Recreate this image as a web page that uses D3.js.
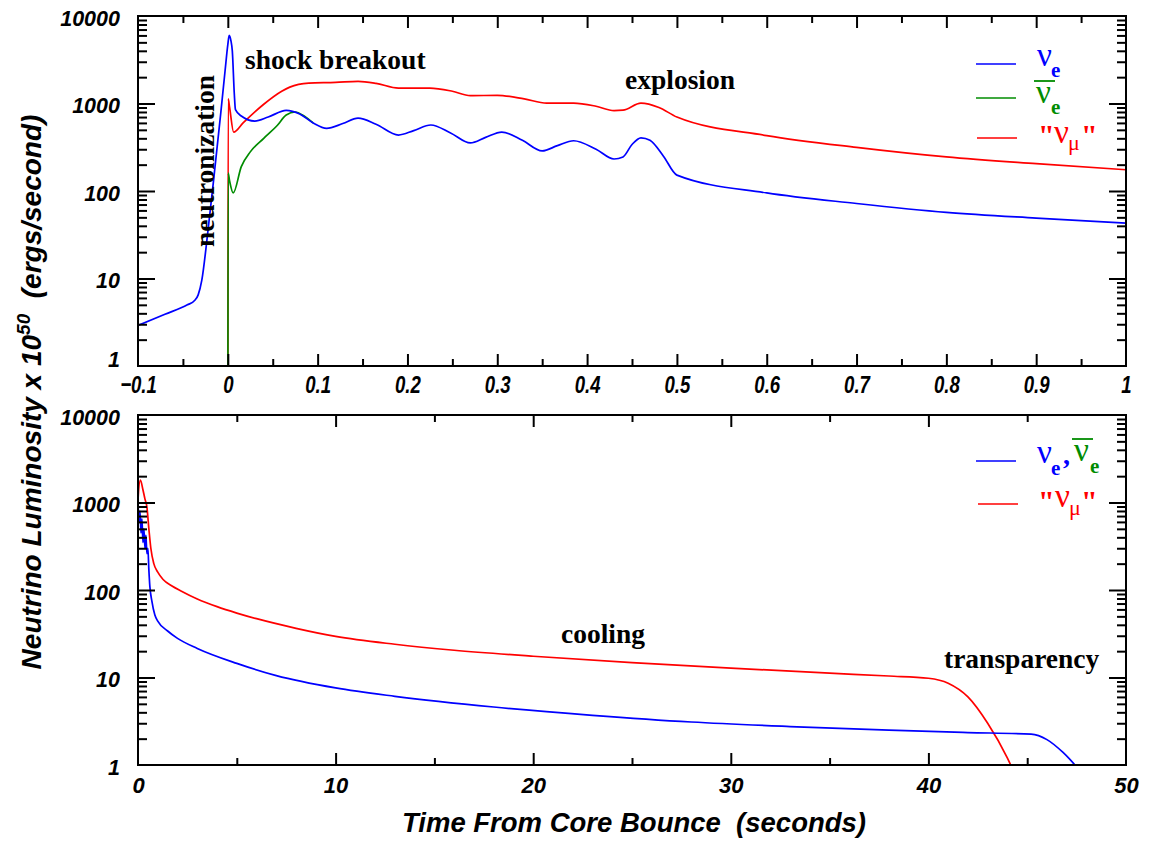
<!DOCTYPE html>
<html>
<head>
<meta charset="utf-8">
<script src="https://cdn.jsdelivr.net/npm/d3@7"></script>
<style>
body { margin: 0; background: #fff; }
svg { display: block; }
.lab { font-family: "Liberation Sans", Arial, sans-serif; font-weight: bold; font-style: italic; fill: #000; }
.note { font-family: "Liberation Serif", "Times New Roman", serif; font-weight: bold; font-size: 27.5px; fill: #000; }
.greek { font-family: "Liberation Serif", "Times New Roman", serif; }
.sub { font-family: "Liberation Serif", serif; font-weight: bold; }
</style>
</head>
<body>
<svg id="chart"></svg>
<script>
// top panel, first second after bounce
var topNueT = [-0.1, -0.07, -0.045, -0.037, -0.033, -0.029, -0.022, -0.015, -0.008, -0.003, 0.0, 0.0015, 0.0035, 0.005, 0.0072, 0.0085, 0.015, 0.03, 0.045, 0.065, 0.08, 0.095, 0.11, 0.128, 0.145, 0.165, 0.19, 0.207, 0.226, 0.248, 0.27, 0.287, 0.305, 0.328, 0.35, 0.367, 0.385, 0.41, 0.43, 0.44, 0.45, 0.46, 0.47, 0.485, 0.5, 0.6, 0.7, 0.8, 0.9, 1.0];
var topNueL = [2.9, 3.9, 5.0, 5.6, 6.5, 9.5, 36, 160, 750, 2400, 4700, 6000, 5200, 4000, 1300, 850, 720, 630, 700, 835, 760, 600, 520, 590, 680, 580, 436, 490, 568, 460, 354, 410, 472, 380, 287, 330, 375, 300, 232, 245, 340, 405, 380, 250, 152, 95, 72, 57, 49, 43];

var topNuebarT = [0, 0.0004, 0.002, 0.006, 0.015, 0.025, 0.04, 0.055, 0.065, 0.075, 0.085, 0.095];
var topNuebarL = [0.1, 160, 130, 95, 190, 280, 400, 560, 740, 800, 720, 600];

var topNumuT = [0, 0.0004, 0.002, 0.0065, 0.017, 0.04, 0.06, 0.069, 0.09, 0.12, 0.145, 0.165, 0.19, 0.225, 0.25, 0.27, 0.3, 0.33, 0.355, 0.385, 0.41, 0.43, 0.44, 0.46, 0.48, 0.5, 0.6, 0.7, 0.8, 0.9, 1.0];
var topNumuL = [0.1, 1130, 900, 470, 600, 980, 1380, 1540, 1710, 1740, 1790, 1700, 1500, 1500, 1380, 1230, 1240, 1130, 1010, 1010, 930, 830, 840, 1010, 900, 700, 430, 315, 245, 205, 175];

// bottom panel, 50 seconds
var botNueT = [0, 0.0002, 0.01, 0.06, 0.1, 0.15, 0.2, 0.25, 0.3, 0.35, 0.4, 0.45, 0.5, 0.55, 0.6, 0.7, 0.85, 1.0, 1.5, 2, 3, 5, 7, 10, 13, 18, 23, 28, 33, 38, 42, 45.2, 46, 46.8, 47.6];
var botNueL = [0.5, 6000, 900, 600, 800, 450, 650, 350, 500, 300, 420, 260, 300, 170, 110, 75, 52, 44, 34, 28, 21.5, 14.5, 10.5, 7.6, 6.1, 4.6, 3.7, 3.1, 2.75, 2.5, 2.35, 2.25, 1.95, 1.4, 0.9];

var botNumuT = [0, 0.003, 0.12, 0.25, 0.35, 0.45, 0.55, 0.65, 0.8, 1.0, 1.27, 1.7, 2.2, 3, 4, 5, 6, 8, 10, 13, 16, 20, 25, 30, 35, 38, 40, 41, 42, 43, 44, 44.6];
var botNumuL = [0.1, 1100, 1800, 1400, 1100, 890, 500, 300, 200, 160, 132, 112, 97, 79, 64.5, 54.5, 47, 36.5, 29.5, 24, 20.5, 17.5, 14.8, 12.8, 11.2, 10.4, 9.8, 8.6, 6.0, 3.0, 1.2, 0.6];

var yTicks = [1, 10, 100, 1000, 10000];
var topXTicks = [-0.1, 0, 0.1, 0.2, 0.3, 0.4, 0.5, 0.6, 0.7, 0.8, 0.9, 1];
var botXTicks = [0, 10, 20, 30, 40, 50];

var width = 1149, height = 842;
var left = 138, right = 1126;
var blue = "#0000ff", green = "#008c00", red = "#ff0000";

var svg = d3.select("#chart").attr("width", width).attr("height", height);

var minorY = [];
[1, 10, 100, 1000].forEach(function(d) {
  for (var k = 2; k <= 9; k++) minorY.push(d * k);
});

function zip(t, l) {
  return t.map(function(d, i) { return [d, l[i]]; });
}

function panel(id, top, bottom, xDomain, xMajor, xMinor, series, xFmt, squeeze) {
  var x = d3.scaleLinear().domain(xDomain).range([left, right]);
  var y = d3.scaleLog().domain([1, 10000]).range([bottom, top]);
  var h = bottom - top;

  svg.append("clipPath").attr("id", id)
    .append("rect").attr("x", left).attr("y", top).attr("width", right - left).attr("height", h);

  var line = d3.line()
    .x(function(d) { return x(d[0]); })
    .y(function(d) { return y(d[1]); })
    .curve(d3.curveMonotoneX);

  var g = svg.append("g");
  series.forEach(function(s) {
    g.append("path")
      .datum(zip(s.t, s.l))
      .attr("clip-path", "url(#" + id + ")")
      .attr("fill", "none")
      .attr("stroke", s.color)
      .attr("stroke-width", 1.7)
      .attr("d", line);
  });

  // inward ticks on all four sides
  function ticks(axis, tx, ty) {
    var a = svg.append("g").attr("transform", "translate(" + tx + "," + ty + ")").call(axis);
    a.select(".domain").remove();
    a.selectAll("line").attr("stroke", "#000").attr("stroke-width", 2);
  }
  var xMaj = xMajor.filter(function(d) { return d > xDomain[0] && d < xDomain[1]; });
  ticks(d3.axisBottom(x).tickValues(xMaj).tickSize(-12).tickFormat(""), 0, bottom);
  ticks(d3.axisTop(x).tickValues(xMaj).tickSize(-12).tickFormat(""), 0, top);
  ticks(d3.axisBottom(x).tickValues(xMinor).tickSize(-7).tickFormat(""), 0, bottom);
  ticks(d3.axisTop(x).tickValues(xMinor).tickSize(-7).tickFormat(""), 0, top);
  var yMaj = yTicks.filter(function(d) { return d > 1 && d < 10000; });
  ticks(d3.axisLeft(y).tickValues(yMaj).tickSize(-17).tickFormat(""), left, 0);
  ticks(d3.axisRight(y).tickValues(yMaj).tickSize(-17).tickFormat(""), right, 0);
  ticks(d3.axisLeft(y).tickValues(minorY).tickSize(-9).tickFormat(""), left, 0);
  ticks(d3.axisRight(y).tickValues(minorY).tickSize(-9).tickFormat(""), right, 0);

  svg.append("rect")
    .attr("x", left).attr("y", top).attr("width", right - left).attr("height", h)
    .attr("fill", "none").attr("stroke", "#000").attr("stroke-width", 2);

  // y labels
  var yl = svg.append("g").attr("transform", "translate(" + left + ",0)")
    .call(d3.axisLeft(y).tickValues(yTicks).tickSize(0).tickPadding(18).tickFormat(d3.format("d")));
  yl.select(".domain").remove();
  yl.selectAll("text").attr("class", "lab").attr("font-size", 21.5).attr("dy", "0.42em")
    .filter(function(d) { return squeeze && d === 1; }).attr("dy", "0em");

  // x labels
  var xl = svg.append("g").attr("transform", "translate(0," + bottom + ")")
    .call(d3.axisBottom(x).tickValues(xMajor).tickSize(0).tickPadding(squeeze ? 10 : 12).tickFormat(xFmt));
  xl.select(".domain").remove();
  xl.selectAll("text").attr("class", "lab").attr("font-size", squeeze ? 24.5 : 22)
    .attr("transform", squeeze ? "scale(0.76,1)" : null);

  return { x: x, y: y };
}

var topMinor = d3.range(-0.05, 1, 0.1).map(function(d) { return +d.toFixed(2); });
var p1 = panel("clipTop", 16, 366, [-0.1, 1], topXTicks, topMinor, [
  { t: topNumuT, l: topNumuL, color: red },
  { t: topNuebarT, l: topNuebarL, color: green },
  { t: topNueT, l: topNueL, color: blue }
], function(d) { return d === 0 || d === 1 ? d3.format("d")(d) : d3.format(".1f")(d); }, true);

var p2 = panel("clipBot", 415, 765, [0, 50], botXTicks, [5, 15, 25, 35, 45], [
  { t: botNumuT, l: botNumuL, color: red },
  { t: botNueT, l: botNueL, color: blue }
], d3.format("d"), false);

// annotations
svg.append("text").attr("class", "note").attr("x", 245).attr("y", 69).text("shock breakout");
svg.append("text").attr("class", "note").attr("x", 625).attr("y", 89).text("explosion");
svg.append("text").attr("class", "note").attr("x", 561).attr("y", 643).text("cooling");
svg.append("text").attr("class", "note").attr("x", 944).attr("y", 668).text("transparency");
svg.append("text").attr("class", "note")
  .attr("transform", "translate(214,161) rotate(-90)")
  .attr("text-anchor", "middle")
  .attr("font-size", 40)
  .attr("textLength", 172).attr("lengthAdjust", "spacingAndGlyphs")
  .text("neutronization");

// axis titles
svg.append("text").attr("class", "lab").attr("font-size", 27.5)
  .attr("x", 634).attr("y", 832).attr("text-anchor", "middle")
  .style("white-space", "pre")
  .text("Time From Core Bounce  (seconds)");

var yt = svg.append("text").attr("class", "lab").attr("font-size", 28)
  .attr("transform", "translate(41,392) rotate(-90)")
  .attr("text-anchor", "middle")
  .style("white-space", "pre");
yt.append("tspan").text("Neutrino Luminosity x 10");
yt.append("tspan").attr("font-size", 19).attr("dy", -11).text("50");
yt.append("tspan").attr("dy", 11).text("  (ergs/second)");

// legends
function legLine(x1, x2, y, color) {
  svg.append("line").attr("x1", x1).attr("x2", x2).attr("y1", y).attr("y2", y)
    .attr("stroke", color).attr("stroke-width", 1.5);
}
function nu(x, y, color, subText, subX, subY, bar) {
  svg.append("text").attr("class", "greek").attr("font-size", 33).attr("fill", color)
    .attr("x", x).attr("y", y).text("\u03bd");
  svg.append("text").attr("class", subText === "e" ? "sub" : "greek")
    .attr("font-size", subText === "e" ? 21 : 22).attr("fill", color)
    .attr("x", subX).attr("y", subY).text(subText === "e" ? "e" : "\u03bc");
  if (bar) {
    svg.append("line").attr("x1", x - 2).attr("x2", x + 19).attr("y1", y - 22).attr("y2", y - 22)
      .attr("stroke", color).attr("stroke-width", 1.8);
  }
}
function quote(x, y) {
  svg.append("text").attr("class", "sub").attr("font-size", 30).attr("fill", red)
    .attr("x", x).attr("y", y).text("\"");
}

legLine(976, 1016, 64, blue);
nu(1037, 66, blue, "e", 1051, 77, false);
legLine(976, 1016, 98, green);
nu(1036, 103, green, "e", 1051, 114, true);
legLine(977, 1017, 138, red);
quote(1038, 145);
nu(1054, 143, red, "mu", 1068, 150, false);
quote(1081, 145);

legLine(976, 1016, 461, blue);
nu(1037, 463, blue, "e", 1051, 475, false);
svg.append("text").attr("class", "sub").attr("font-size", 28).attr("fill", blue)
  .attr("x", 1063).attr("y", 464).text(",");
nu(1074, 461, green, "e", 1090, 473, true);
legLine(978, 1018, 504, red);
quote(1038, 511);
nu(1055, 507, red, "mu", 1069, 515, false);
quote(1081, 511);
</script>
</body>
</html>
